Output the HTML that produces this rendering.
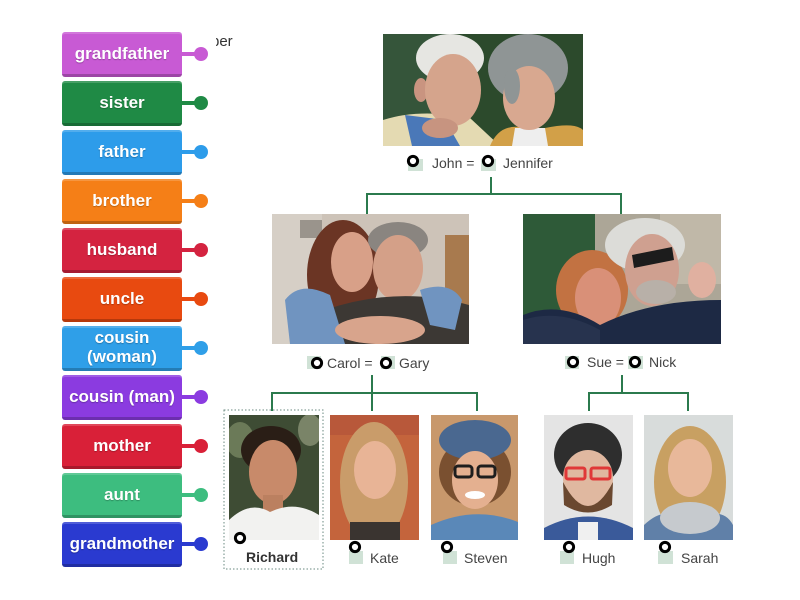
<!DOCTYPE html>
<html><head><meta charset="utf-8"><style>
html,body{margin:0;padding:0;background:#fff;}
#wrap{position:relative;width:800px;height:600px;overflow:hidden;background:#fff;font-family:"Liberation Sans",sans-serif;}
.b{position:absolute;left:62px;width:120px;height:42px;border-bottom:3px solid rgba(0,0,0,0.22);border-radius:3px;color:#fff;font-weight:bold;font-size:17px;line-height:19px;display:flex;align-items:center;justify-content:center;text-align:center;box-sizing:content-box;text-shadow:0 1px 1px rgba(0,0,0,0.25);box-shadow:inset 0 2px 0 rgba(255,255,255,0.18);}
.l{position:absolute;left:182px;width:16px;height:4px;}
.c{position:absolute;left:194px;width:14px;height:14px;border-radius:50%;}
svg{position:absolute;left:0;top:0;}
</style></head><body><div id="wrap">
<div style="position:absolute;left:216px;top:33px;width:24px;height:18px;overflow:hidden;"><div style="position:absolute;left:-5px;top:0;font-size:15px;color:#333;white-space:nowrap;">ber</div></div>

<svg width="800" height="600" viewBox="0 0 800 600" xmlns="http://www.w3.org/2000/svg" font-family="Liberation Sans, sans-serif">
<defs>
<clipPath id="p1"><rect x="383" y="34" width="200" height="112"/></clipPath>
<clipPath id="p2"><rect x="272" y="214" width="197" height="130"/></clipPath>
<clipPath id="p3"><rect x="523" y="214" width="198" height="130"/></clipPath>
<clipPath id="p4"><rect x="229" y="415" width="90" height="125"/></clipPath>
<clipPath id="p5"><rect x="330" y="415" width="89" height="125"/></clipPath>
<clipPath id="p6"><rect x="431" y="415" width="87" height="125"/></clipPath>
<clipPath id="p7"><rect x="544" y="415" width="89" height="125"/></clipPath>
<clipPath id="p8"><rect x="644" y="415" width="89" height="125"/></clipPath>
</defs>

<!-- Grandparents -->
<g clip-path="url(#p1)">
<rect x="383" y="34" width="200" height="112" fill="#2c4a2c"/>
<rect x="383" y="34" width="60" height="112" fill="#35553a"/>
<path d="M383 120 Q420 108 470 118 L500 146 L383 146Z" fill="#e4dab2"/>
<path d="M405 115 L445 120 L460 146 L412 146Z" fill="#4a78b8"/>
<ellipse cx="450" cy="58" rx="34" ry="24" fill="#e6e6e2"/>
<ellipse cx="421" cy="90" rx="7" ry="12" fill="#c99480"/>
<ellipse cx="453" cy="90" rx="28" ry="36" fill="#d5a48c"/>
<ellipse cx="440" cy="128" rx="18" ry="10" fill="#c79480"/>
<path d="M490 146 Q500 122 525 128 L545 128 Q575 122 583 130 L583 146Z" fill="#d2a048"/>
<path d="M515 128 L545 128 L548 146 L512 146Z" fill="#eeeeee"/>
<ellipse cx="528" cy="68" rx="40" ry="34" fill="#8f9595"/>
<ellipse cx="529" cy="98" rx="26" ry="32" fill="#d8a890"/>
<ellipse cx="512" cy="86" rx="8" ry="18" fill="#8f9595"/>
</g>

<!-- Carol Gary -->
<g clip-path="url(#p2)">
<rect x="272" y="214" width="197" height="130" fill="#cdc3b8"/>
<rect x="272" y="214" width="50" height="130" fill="#d6cfc6"/>
<rect x="445" y="235" width="24" height="109" fill="#a87a4e"/>
<rect x="300" y="220" width="22" height="18" fill="#9a948c"/>
<ellipse cx="343" cy="275" rx="36" ry="55" fill="#6b3524"/>
<ellipse cx="352" cy="262" rx="21" ry="30" fill="#d8a088"/>
<ellipse cx="398" cy="240" rx="30" ry="18" fill="#8a8580"/>
<ellipse cx="398" cy="268" rx="25" ry="33" fill="#d4a088"/>
<path d="M325 310 Q398 285 469 305 L469 344 L325 344Z" fill="#3c3834"/>
<path d="M285 300 Q300 280 330 295 L345 344 L290 344Z" fill="#7094c0"/>
<path d="M420 290 Q450 280 462 300 L455 330 L430 325Z" fill="#7094c0"/>
<ellipse cx="380" cy="330" rx="45" ry="14" fill="#d8a48c"/>
</g>

<!-- Sue Nick -->
<g clip-path="url(#p3)">
<rect x="523" y="214" width="198" height="130" fill="#aca697"/>
<rect x="523" y="214" width="72" height="130" fill="#2e5a38"/>
<rect x="660" y="214" width="61" height="70" fill="#c0b8a8"/>
<ellipse cx="592" cy="290" rx="36" ry="40" fill="#c27242"/>
<ellipse cx="598" cy="298" rx="23" ry="30" fill="#d99078"/>
<ellipse cx="645" cy="245" rx="40" ry="27" fill="#dcdcd8"/>
<ellipse cx="652" cy="270" rx="27" ry="36" fill="#cfa090"/>
<path d="M632 255 L672 247 L674 260 L634 268Z" fill="#1c1c1c"/>
<ellipse cx="656" cy="292" rx="20" ry="12" fill="#b8b0a8"/>
<ellipse cx="702" cy="280" rx="14" ry="18" fill="#e0b0a0"/>
<path d="M523 315 Q560 300 600 325 Q650 300 721 300 L721 344 L523 344Z" fill="#1d2944"/>
<path d="M523 320 Q560 308 600 330 L600 344 L523 344Z" fill="#27334e"/>
</g>

<!-- Richard -->
<g clip-path="url(#p4)">
<rect x="229" y="415" width="90" height="125" fill="#3e4c34"/>
<ellipse cx="240" cy="440" rx="14" ry="18" fill="#6b7a58"/>
<ellipse cx="310" cy="430" rx="12" ry="16" fill="#7a8468"/>
<ellipse cx="271" cy="450" rx="30" ry="24" fill="#2a1e16"/>
<ellipse cx="273" cy="472" rx="24" ry="32" fill="#c88a6a"/>
<rect x="263" y="495" width="20" height="18" fill="#bb8060"/>
<path d="M229 520 Q250 500 270 512 Q295 500 319 515 L319 540 L229 540Z" fill="#f2f2f0"/>
</g>

<!-- Kate -->
<g clip-path="url(#p5)">
<rect x="330" y="415" width="89" height="125" fill="#c4643c"/>
<rect x="330" y="415" width="89" height="20" fill="#b8583a"/>
<ellipse cx="374" cy="482" rx="34" ry="60" fill="#c99c6a"/>
<ellipse cx="375" cy="470" rx="21" ry="29" fill="#e8b496"/>
<rect x="350" y="522" width="50" height="18" fill="#3a3430"/>
</g>

<!-- Steven -->
<g clip-path="url(#p6)">
<rect x="431" y="415" width="87" height="125" fill="#c8986c"/>
<ellipse cx="475" cy="472" rx="36" ry="34" fill="#7a5030"/>
<ellipse cx="475" cy="440" rx="36" ry="20" fill="#4a6890"/>
<ellipse cx="475" cy="480" rx="23" ry="29" fill="#e4b090"/>
<rect x="455" y="466" width="17" height="11" rx="3" fill="none" stroke="#1e1e1e" stroke-width="3"/>
<rect x="478" y="466" width="17" height="11" rx="3" fill="none" stroke="#1e1e1e" stroke-width="3"/>
<ellipse cx="475" cy="495" rx="10" ry="4" fill="#fff"/>
<path d="M431 525 Q475 505 518 522 L518 540 L431 540Z" fill="#5a88b8"/>
</g>

<!-- Hugh -->
<g clip-path="url(#p7)">
<rect x="544" y="415" width="89" height="125" fill="#e4e4e4"/>
<ellipse cx="588" cy="455" rx="34" ry="32" fill="#2e2e2e"/>
<ellipse cx="588" cy="478" rx="25" ry="28" fill="#e0b8a0"/>
<rect x="566" y="468" width="19" height="11" rx="2" fill="none" stroke="#e03838" stroke-width="3"/>
<rect x="591" y="468" width="19" height="11" rx="2" fill="none" stroke="#e03838" stroke-width="3"/>
<path d="M563 482 Q588 530 613 482 L612 505 Q588 520 564 505Z" fill="#6a4830"/>
<path d="M544 528 Q588 505 633 528 L633 540 L544 540Z" fill="#3a5a9a"/>
<rect x="578" y="522" width="20" height="18" fill="#f0f0f0"/>
</g>

<!-- Sarah -->
<g clip-path="url(#p8)">
<rect x="644" y="415" width="89" height="125" fill="#d8dcdb"/>
<ellipse cx="690" cy="482" rx="36" ry="56" fill="#c8a062"/>
<ellipse cx="690" cy="468" rx="22" ry="29" fill="#e8b89a"/>
<path d="M644 525 Q660 510 672 515 L708 515 Q725 510 733 525 L733 540 L644 540Z" fill="#6080a8"/>
<ellipse cx="690" cy="518" rx="30" ry="16" fill="#c6cace"/>
</g>

<!-- Connectors -->
<g stroke="#2b7a4d" stroke-width="2" fill="none">
<path d="M491 177 V194 M367 194 H622 M367 193 V214 M621 193 V214"/>
<path d="M372 375 V393 M272 393 H477 M272 392 V411 M372 392 V411 M477 392 V411"/>
<path d="M622 375 V393 M589 393 H688 M589 392 V411 M688 392 V411"/>
</g>

<rect x="224" y="410" width="99" height="159" fill="none" stroke="#6a8a80" stroke-width="1" stroke-dasharray="1.5 2"/>

<!-- markers -->
<g fill="#d0e2d6">
<rect x="408" y="159" width="15" height="12"/><rect x="481" y="159" width="15" height="12"/>
<rect x="307" y="356" width="14" height="13"/><rect x="381" y="356" width="14" height="13"/>
<rect x="565" y="356" width="14" height="13"/><rect x="628" y="356" width="15" height="13"/>
<rect x="349" y="551" width="14" height="13"/><rect x="443" y="551" width="14" height="13"/>
<rect x="560" y="551" width="14" height="13"/><rect x="658" y="551" width="15" height="13"/>
</g>
<g fill="#fff" stroke="#000" stroke-width="3">
<circle cx="413" cy="161" r="4.6"/><circle cx="488" cy="161" r="4.6"/>
<circle cx="317" cy="363" r="4.6"/><circle cx="386" cy="363" r="4.6"/>
<circle cx="573" cy="362" r="4.6"/><circle cx="635" cy="362" r="4.6"/>
<circle cx="240" cy="538" r="4.6"/>
<circle cx="355" cy="547" r="4.6"/><circle cx="447" cy="547" r="4.6"/>
<circle cx="569" cy="547" r="4.6"/><circle cx="665" cy="547" r="4.6"/>
</g>

<g font-size="14" fill="#444">
<text x="432" y="168">John =</text><text x="503" y="168">Jennifer</text>
<text x="327" y="368">Carol =</text><text x="399" y="368">Gary</text>
<text x="587" y="367">Sue =</text><text x="649" y="367">Nick</text>
<text x="370" y="563">Kate</text><text x="464" y="563">Steven</text>
<text x="582" y="563">Hugh</text><text x="681" y="563">Sarah</text>
<text x="246" y="562" font-weight="bold" fill="#333">Richard</text>
</g>
</svg>

<div class="b" style="top:32px;background:#c85ad4;">grandfather</div>
<div class="l" style="top:52px;background:#c85ad4;"></div><div class="c" style="top:47px;background:#c85ad4;"></div>

<div class="b" style="top:81px;background:#1f8a45;">sister</div>
<div class="l" style="top:101px;background:#1f8a45;"></div><div class="c" style="top:96px;background:#1f8a45;"></div>

<div class="b" style="top:130px;background:#2d9cea;">father</div>
<div class="l" style="top:150px;background:#2d9cea;"></div><div class="c" style="top:145px;background:#2d9cea;"></div>

<div class="b" style="top:179px;background:#f57f17;">brother</div>
<div class="l" style="top:199px;background:#f57f17;"></div><div class="c" style="top:194px;background:#f57f17;"></div>

<div class="b" style="top:228px;background:#d42340;">husband</div>
<div class="l" style="top:248px;background:#d42340;"></div><div class="c" style="top:243px;background:#d42340;"></div>

<div class="b" style="top:277px;background:#e84a10;">uncle</div>
<div class="l" style="top:297px;background:#e84a10;"></div><div class="c" style="top:292px;background:#e84a10;"></div>

<div class="b" style="top:326px;background:#2f9fe8;">cousin<br>(woman)</div>
<div class="l" style="top:346px;background:#2f9fe8;"></div><div class="c" style="top:341px;background:#2f9fe8;"></div>

<div class="b" style="top:375px;background:#8b3be0;">cousin (man)</div>
<div class="l" style="top:395px;background:#8b3be0;"></div><div class="c" style="top:390px;background:#8b3be0;"></div>

<div class="b" style="top:424px;background:#d92038;">mother</div>
<div class="l" style="top:444px;background:#d92038;"></div><div class="c" style="top:439px;background:#d92038;"></div>

<div class="b" style="top:473px;background:#3dbd7f;">aunt</div>
<div class="l" style="top:493px;background:#3dbd7f;"></div><div class="c" style="top:488px;background:#3dbd7f;"></div>

<div class="b" style="top:522px;background:#2a3ad0;">grandmother</div>
<div class="l" style="top:542px;background:#2a3ad0;"></div><div class="c" style="top:537px;background:#2a3ad0;"></div>

</div></body></html>
